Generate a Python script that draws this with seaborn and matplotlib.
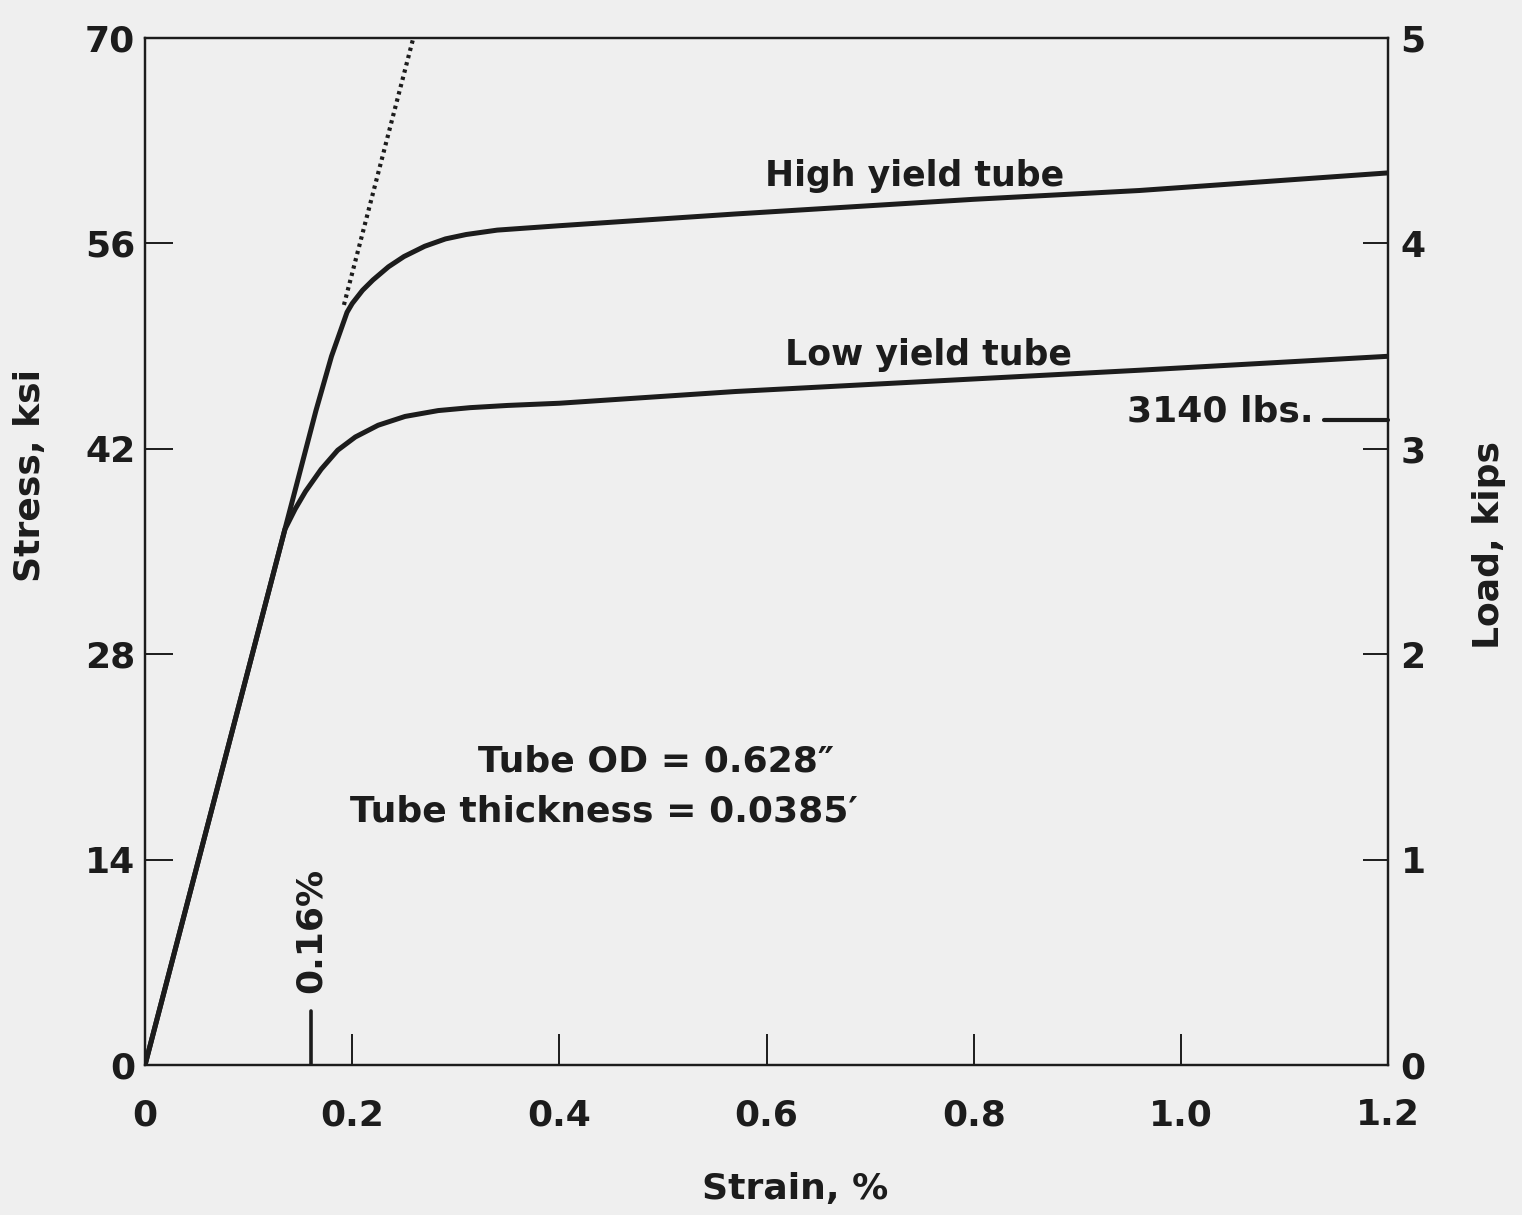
import numpy as np
import pandas as pd
import matplotlib
matplotlib.use('Agg')
import matplotlib.pyplot as plt
import seaborn as sns

# values (strain in %, stress in ksi)
high_strain = [0, 0.135, 0.165, 0.18, 0.195, 0.20, 0.21, 0.22, 0.235, 0.25, 0.27, 0.29, 0.31, 0.34, 0.40,
               0.57, 0.80, 0.96, 1.20]
high_stress = [0, 36.5, 44.6, 48.3, 51.3, 51.9, 52.8, 53.5, 54.4, 55.1, 55.8, 56.3, 56.6, 56.9, 57.2,
               58.0, 59.0, 59.6, 60.8]
low_strain = [0, 0.135, 0.145, 0.155, 0.170, 0.186, 0.203, 0.225, 0.251, 0.283, 0.314, 0.35, 0.40,
              0.57, 0.96, 1.20]
low_stress = [0, 36.5, 37.9, 39.1, 40.6, 41.9, 42.8, 43.6, 44.2, 44.6, 44.8, 44.95, 45.1,
              45.9, 47.35, 48.3]
# extension of the elastic line (dotted)
elastic_strain = [0.192, 0.259]
elastic_stress = [51.8, 70.0]

x_ticks = [0, 0.2, 0.4, 0.6, 0.8, 1.0, 1.2]
x_labels = ['0', '0.2', '0.4', '0.6', '0.8', '1.0', '1.2']
stress_ticks = [0, 14, 28, 42, 56, 70]
load_ticks = [0, 1, 2, 3, 4, 5]
marker_strain = 0.16
load_marker = 3.14  # 3140 lbs

sns.set_theme(style='white')
plt.rcParams['font.family'] = ['DejaVu Sans']
plt.rcParams['font.weight'] = 'bold'
ink = '#1c1c1c'
paper = '#efefef'
fs = 26

fig = plt.figure(figsize=(15.22, 12.15), dpi=100, facecolor=paper)
ax = fig.add_axes([0.0953, 0.1235, 0.8167, 0.8453])
ax.set_facecolor(paper)

df = pd.concat([
    pd.DataFrame({'strain': high_strain, 'stress': high_stress, 'tube': 'High yield tube'}),
    pd.DataFrame({'strain': low_strain, 'stress': low_stress, 'tube': 'Low yield tube'}),
])
sns.lineplot(data=df, x='strain', y='stress', units='tube', estimator=None,
             color=ink, linewidth=3.6, sort=False, ax=ax, legend=False)
ax.plot(elastic_strain, elastic_stress, linestyle=(0, (0.8, 1.0)), color=ink, linewidth=3.0)

ax.set_xlim(0, 1.2)
ax.set_ylim(0, 70)
for s in ax.spines.values():
    s.set_color(ink)
    s.set_linewidth(1.6)

ax.set_xticks(x_ticks)
ax.set_xticklabels(x_labels)
ax.set_yticks(stress_ticks)
ax.tick_params(axis='x', bottom=True, direction='in', length=22, width=1.4, color=ink,
               labelsize=fs, labelcolor=ink, pad=24)
ax.tick_params(axis='y', left=True, direction='in', length=20, width=1.4, color=ink,
               labelsize=fs, labelcolor=ink, pad=7)
for t in (ax.xaxis.get_major_ticks()[0], ax.xaxis.get_major_ticks()[-1]):
    t.tick1line.set_visible(False)
for t in (ax.yaxis.get_major_ticks()[0], ax.yaxis.get_major_ticks()[-1]):
    t.tick1line.set_visible(False)

ax2 = ax.twinx()
ax2.set_ylim(0, 5)
ax2.set_yticks(load_ticks)
ax2.tick_params(axis='y', right=True, direction='in', length=18, width=1.4, color=ink,
                labelsize=fs, labelcolor=ink, pad=9)
for t in (ax2.yaxis.get_major_ticks()[0], ax2.yaxis.get_major_ticks()[-1]):
    t.tick2line.set_visible(False)
for s in ax2.spines.values():
    s.set_color(ink)
    s.set_linewidth(1.6)

ax.set_xlabel('Strain, %', fontsize=fs, fontweight='bold', color=ink)
ax.xaxis.set_label_coords(0.523, -0.104)
ax.set_ylabel('Stress, ksi', fontsize=fs, fontweight='bold', color=ink)
ax.yaxis.set_label_coords(-0.079, 0.574)
ax2.set_ylabel('Load, kips', fontsize=fs, fontweight='bold', color=ink)
ax2.yaxis.set_label_coords(1.0676, 0.506)

# 0.16 % strain marker
ax.plot([marker_strain, marker_strain], [0, 3.7], color=ink, linewidth=2.6)
ax.text(marker_strain, 4.9, '0.16%', rotation=90, ha='center', va='bottom',
        fontsize=fs, color=ink)

# 3140 lbs marker on load axis
ax2.plot([1.138, 1.2], [load_marker, load_marker], color=ink, linewidth=3.0, clip_on=False)
ax2.text(1.128, load_marker + 0.04, '3140 lbs.', ha='right', va='center',
         fontsize=fs, color=ink)

ax.text(0.743, 60.6, 'High yield tube', ha='center', va='center', fontsize=25, color=ink)
ax.text(0.756, 48.4, 'Low yield tube', ha='center', va='center', fontsize=25, color=ink)
ax.text(0.493, 20.7, 'Tube OD = 0.628\u2033', ha='center', va='center', fontsize=fs, color=ink)
ax.text(0.443, 17.3, 'Tube thickness = 0.0385\u2032', ha='center', va='center', fontsize=fs, color=ink)

fig.savefig('out.png', dpi=100, facecolor=paper)
